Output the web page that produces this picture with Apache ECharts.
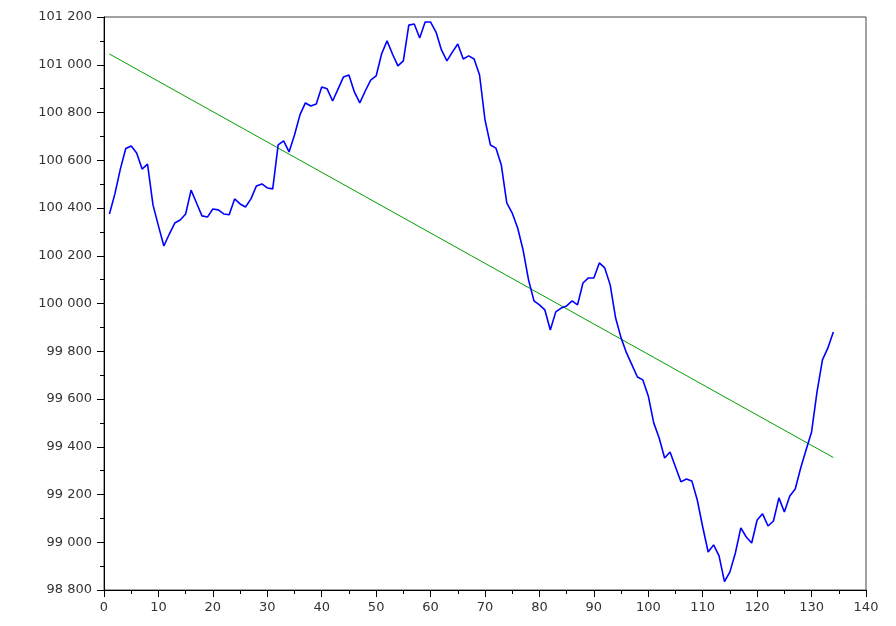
<!DOCTYPE html>
<html>
<head>
<meta charset="utf-8">
<script src="https://cdn.jsdelivr.net/npm/echarts@6/dist/echarts.min.js"></script>
<style>
  html, body { margin: 0; padding: 0; background: #fff; }
  #chart { width: 896px; height: 626px; }
</style>
</head>
<body>
<div id="chart"></div>
<script>
// Sample index 1..134
const days = [];
for (let i = 1; i <= 134; i++) days.push(i);

// Observed series
const values = [
  100375, 100459, 100563, 100649, 100660, 100630, 100563, 100584, 100413, 100325,
  100241, 100291, 100337, 100350, 100375, 100475, 100421, 100367, 100362, 100396,
  100392, 100375, 100372, 100438, 100417, 100404, 100438, 100492, 100501, 100484,
  100480, 100664, 100681, 100635, 100706, 100790, 100840, 100827, 100836, 100907,
  100899, 100848, 100898, 100949, 100957, 100886, 100840, 100890, 100936, 100953,
  101045, 101100, 101045, 100995, 101016, 101166, 101171, 101112, 101179, 101179,
  101137, 101062, 101016, 101053, 101087, 101024, 101037, 101024, 100957, 100769,
  100664, 100651, 100580, 100421, 100379, 100316, 100224, 100099, 100011, 99994,
  99973, 99889, 99965, 99981, 99990, 100011, 99994, 100086, 100107, 100107,
  100170, 100149, 100078, 99939, 99856, 99793, 99743, 99692, 99680, 99613,
  99500, 99437, 99353, 99378, 99315, 99253, 99265, 99257, 99177, 99064,
  98959, 98989, 98943, 98835, 98876, 98955, 99060, 99022, 98997, 99093,
  99119, 99068, 99089, 99186, 99127, 99194, 99223, 99311, 99387, 99462,
  99630, 99764, 99814, 99881
];

// Linear trend end points
const trendX = [1, 134];
const trendY = [101045, 99355];

// Axis ranges and tick steps
const xRange = [0, 140, 10];
const yRange = [98800, 101200, 200];

const fmt = v => String(v).replace(/\B(?=(\d{3})+(?!\d))/g, ' ');
const labelFont = 'DejaVu Sans, Verdana, sans-serif';

const chart = echarts.init(document.getElementById('chart'));
chart.setOption({
  animation: false,
  backgroundColor: '#ffffff',
  grid: {
    left: 104, right: 30, top: 17, bottom: 36,
    show: true, borderColor: '#444', borderWidth: 1, backgroundColor: 'transparent'
  },
  xAxis: {
    type: 'value',
    min: xRange[0], max: xRange[1], interval: xRange[2],
    axisLine: { onZero: false, lineStyle: { color: '#000', width: 1 } },
    axisTick: { length: 7, lineStyle: { color: '#000' } },
    minorTick: { show: true, splitNumber: 2, length: 4, lineStyle: { color: '#000' } },
    splitLine: { show: false },
    axisLabel: { color: '#333', fontFamily: labelFont, fontSize: 13, margin: 11 }
  },
  yAxis: {
    type: 'value',
    min: yRange[0], max: yRange[1], interval: yRange[2],
    axisLine: { show: true, onZero: false, lineStyle: { color: '#000', width: 1 } },
    axisTick: { show: true, length: 7, lineStyle: { color: '#000' } },
    minorTick: { show: true, splitNumber: 2, length: 4, lineStyle: { color: '#000' } },
    splitLine: { show: false },
    axisLabel: { color: '#333', fontFamily: labelFont, fontSize: 13, margin: 12, formatter: fmt }
  },
  series: [
    {
      type: 'line',
      data: days.map((d, i) => [d, values[i]]),
      symbol: 'none',
      lineStyle: { color: '#0000ff', width: 1.6 },
      z: 3
    },
    {
      type: 'line',
      data: trendX.map((d, i) => [d, trendY[i]]),
      symbol: 'none',
      lineStyle: { color: '#00a000', width: 1 },
      z: 2
    }
  ]
});
</script>
</body>
</html>
